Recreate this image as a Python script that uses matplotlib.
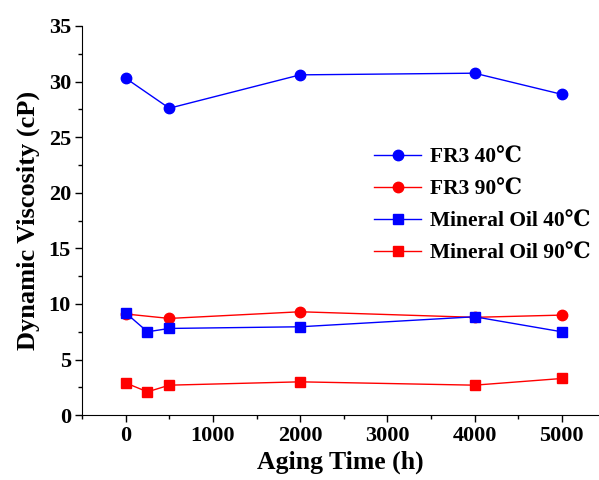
import matplotlib.pyplot as plt
from matplotlib.ticker import MultipleLocator

# Data
fr3_time = [0, 500, 2000, 4000, 5000]
fr3_40 = [30.3, 27.6, 30.6, 30.75, 28.85]
fr3_90 = [9.1, 8.7, 9.3, 8.8, 9.0]

mo_time = [0, 250, 500, 2000, 4000, 5000]
mo_40 = [9.2, 7.5, 7.8, 7.95, 8.85, 7.5]
mo_90 = [2.9, 2.1, 2.7, 3.0, 2.7, 3.3]

plt.rcParams["font.family"] = ["Liberation Serif", "DejaVu Serif"]
plt.rcParams["font.weight"] = "bold"

fig = plt.figure(figsize=(5.99, 4.80), dpi=100)
ax = fig.add_axes([0.137, 0.135, 0.862, 0.811])

ax.plot(fr3_time, fr3_40, color="blue", marker="o", ms=7.5, lw=1, label="FR3 40℃")
ax.plot(fr3_time, fr3_90, color="red", marker="o", ms=7.5, lw=1, label="FR3 90℃")
ax.plot(mo_time, mo_40, color="blue", marker="s", ms=6.5, lw=1, label="Mineral Oil 40℃")
ax.plot(mo_time, mo_90, color="red", marker="s", ms=6.5, lw=1, label="Mineral Oil 90℃")

ax.set_xlim(-500, 5420)
ax.set_ylim(0, 35)
ax.xaxis.set_major_locator(MultipleLocator(1000))
ax.xaxis.set_minor_locator(MultipleLocator(500))
ax.yaxis.set_major_locator(MultipleLocator(5))
ax.yaxis.set_minor_locator(MultipleLocator(2.5))
ax.tick_params(which="major", direction="out", length=5, width=1, labelsize=16, pad=3)
ax.tick_params(which="minor", direction="out", length=3, width=1)

ax.spines["top"].set_visible(False)
ax.spines["right"].set_visible(False)

ax.set_xlabel("Aging Time (h)", fontsize=18.5, fontweight="bold", labelpad=3)
ax.set_ylabel("Dynamic Viscosity (cP)", fontsize=19, fontweight="bold", labelpad=6)

ax.legend(loc="upper left", bbox_to_anchor=(0.528, 0.737), frameon=False,
          fontsize=15.5, handlelength=2.2, handletextpad=0.4, labelspacing=0.55)

fig.savefig("out.png", dpi=100)
